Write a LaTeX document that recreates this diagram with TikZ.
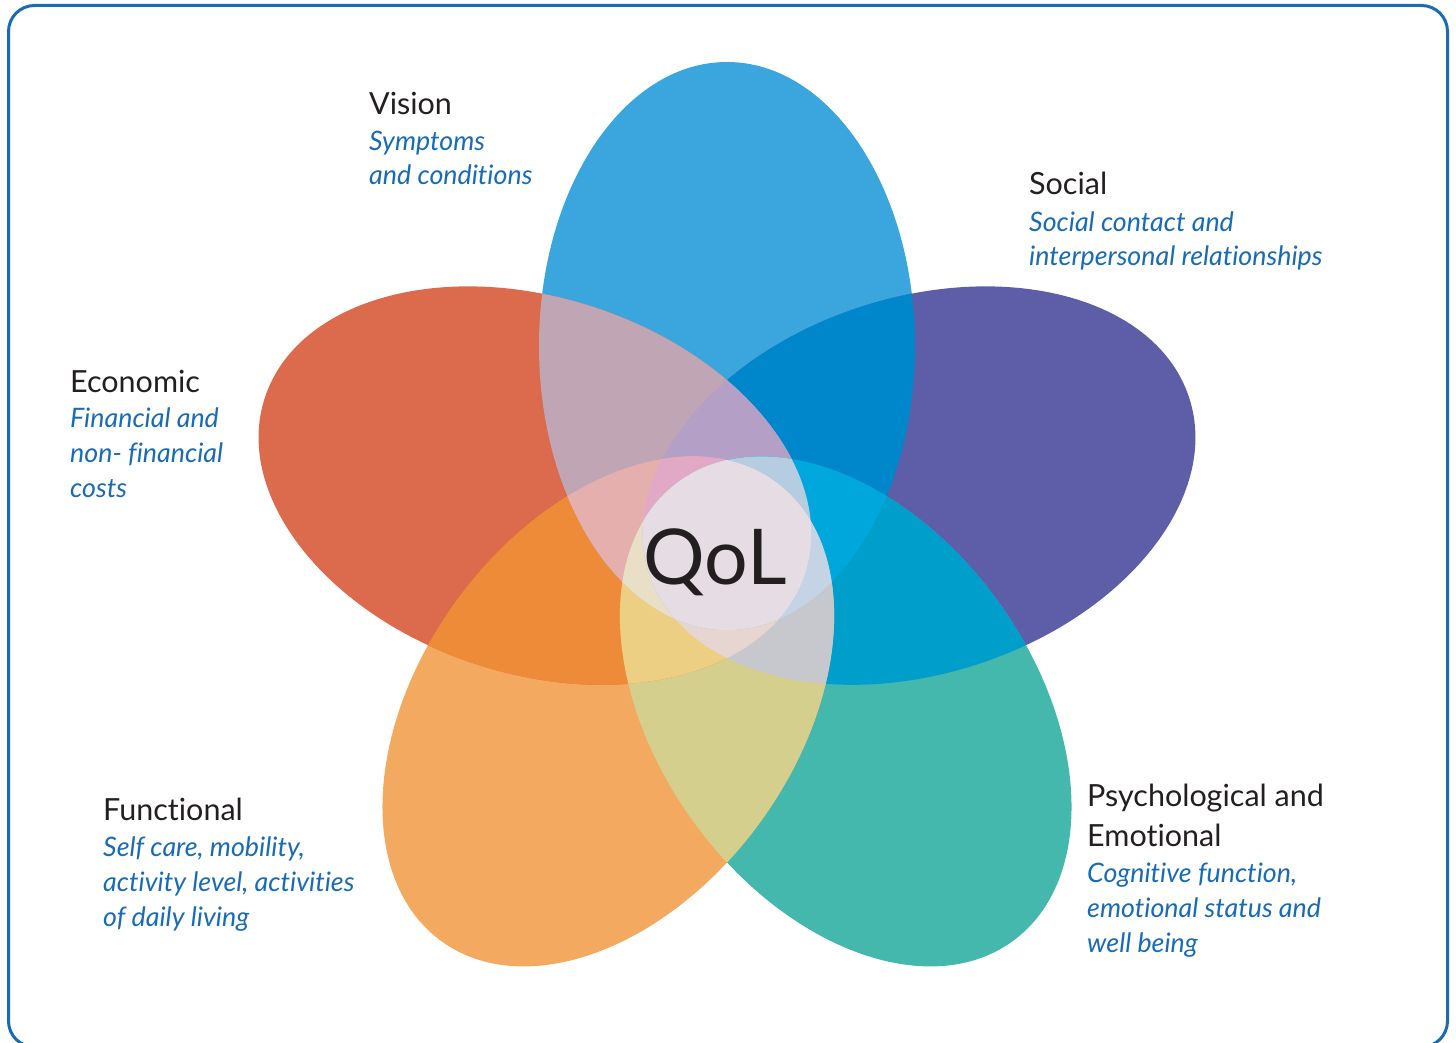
\documentclass[tikz,border=0pt]{standalone}
\usepackage{fontspec}
\setmainfont{Lato}[Ligatures={NoCommon}]
\definecolor{cV}{HTML}{3BA6DE}
\definecolor{cS}{HTML}{5E5DA8}
\definecolor{cP}{HTML}{45B8AE}
\definecolor{cF}{HTML}{F3A95F}
\definecolor{cE}{HTML}{DC6A4C}
\definecolor{cVS}{HTML}{0087CB}
\definecolor{cSP}{HTML}{009ECB}
\definecolor{cPF}{HTML}{D5CF8D}
\definecolor{cFE}{HTML}{EE8B38}
\definecolor{cEV}{HTML}{C0A6B4}
\definecolor{tV}{HTML}{B49FC6}
\definecolor{tS}{HTML}{00A7DC}
\definecolor{tP}{HTML}{C6C8CE}
\definecolor{tF}{HTML}{ECCF83}
\definecolor{tE}{HTML}{E5AFAE}
\definecolor{qV}{HTML}{E6D5D1}
\definecolor{qS}{HTML}{E9DFC7}
\definecolor{qP}{HTML}{E2A9C7}
\definecolor{qF}{HTML}{B5CCE1}
\definecolor{qE}{HTML}{C4D4E4}
\definecolor{five}{HTML}{E6DDE4}
\definecolor{framec}{HTML}{1A6BB5}
\definecolor{titlec}{HTML}{231F20}
\definecolor{descc}{HTML}{1A6BB5}
\def\eV{(727,346) circle[x radius=188pt,y radius=284pt]}
\def\eS{(919.1,485.6) circle[x radius=188pt,y radius=284pt,rotate=-72]}
\def\eP{(845.7,711.4) circle[x radius=188pt,y radius=284pt,rotate=36]}
\def\eF{(608.3,711.4) circle[x radius=188pt,y radius=284pt,rotate=-36]}
\def\eE{(534.9,485.6) circle[x radius=188pt,y radius=284pt,rotate=72]}
\tikzset{
  ttl/.style={anchor=base west, inner sep=0pt, text=titlec, font=\fontsize{30.5}{35}\selectfont},
  dsc/.style={anchor=base west, inner sep=0pt, text=descc, font=\fontsize{26.8}{35}\selectfont\itshape},
}
\begin{document}
\begin{tikzpicture}[x=1pt,y=-1pt]
\useasboundingbox (0,0) rectangle (1456,1043);
\fill[white] (0,0) rectangle (1456,1043);
\begin{scope}
\clip (0,0) rectangle (1456,1043);
\draw[framec, line width=3pt, rounded corners=26pt] (8.5,5.5) rectangle (1447.5,1047);
\end{scope}
% singles
\fill[cV] \eV;
\fill[cS] \eS;
\fill[cP] \eP;
\fill[cF] \eF;
\fill[cE] \eE;
% non-adjacent pairs (covered later almost entirely)
\begin{scope}\clip \eV; \fill[qS] \eP; \end{scope}
\begin{scope}\clip \eS; \fill[qP] \eF; \end{scope}
\begin{scope}\clip \eP; \fill[qF] \eE; \end{scope}
\begin{scope}\clip \eF; \fill[qE] \eV; \end{scope}
\begin{scope}\clip \eE; \fill[qV] \eS; \end{scope}
% adjacent pairs
\begin{scope}\clip \eV; \fill[cVS] \eS; \end{scope}
\begin{scope}\clip \eS; \fill[cSP] \eP; \end{scope}
\begin{scope}\clip \eP; \fill[cPF] \eF; \end{scope}
\begin{scope}\clip \eF; \fill[cFE] \eE; \end{scope}
\begin{scope}\clip \eE; \fill[cEV] \eV; \end{scope}
% triples
\begin{scope}\clip \eE; \clip \eV; \fill[tV] \eS; \end{scope}
\begin{scope}\clip \eV; \clip \eS; \fill[tS] \eP; \end{scope}
\begin{scope}\clip \eS; \clip \eP; \fill[tP] \eF; \end{scope}
\begin{scope}\clip \eP; \clip \eF; \fill[tF] \eE; \end{scope}
\begin{scope}\clip \eF; \clip \eE; \fill[tE] \eV; \end{scope}
% four-way
\begin{scope}\clip \eS; \clip \eP; \clip \eF; \fill[qV] \eE; \end{scope}
\begin{scope}\clip \eP; \clip \eF; \clip \eE; \fill[qS] \eV; \end{scope}
\begin{scope}\clip \eF; \clip \eE; \clip \eV; \fill[qP] \eS; \end{scope}
\begin{scope}\clip \eE; \clip \eV; \clip \eS; \fill[qF] \eP; \end{scope}
\begin{scope}\clip \eV; \clip \eS; \clip \eP; \fill[qE] \eF; \end{scope}
% five-way
\begin{scope}\clip \eV; \clip \eS; \clip \eP; \clip \eF; \fill[five] \eE; \end{scope}
% centre label
\node[anchor=base, inner sep=0pt, text=titlec, font=\fontsize{77}{80}\selectfont] (qol) at (715,584) {QoL};
% Vision
\node[ttl] (visT) at (369,115) {Vision};
\node[dsc] (visD1) at (369,151) {Symptoms};
\node[dsc] (visD2) at (369,185) {and conditions};
% Social
\node[ttl] (socT) at (1029,195) {Social};
\node[dsc] (socD1) at (1029,231) {Social contact and};
\node[dsc] (socD2) at (1029,265) {interpersonal relationships};
% Economic
\node[ttl] (ecoT) at (70,392) {Economic};
\node[dsc] (ecoD1) at (70,427) {Financial and};
\node[dsc] (ecoD2) at (70,462) {non- financial};
\node[dsc] (ecoD3) at (70,497) {costs};
% Functional
\node[ttl] (funT) at (103,820) {Functional};
\node[dsc] (funD1) at (103,856) {Self care, mobility,};
\node[dsc] (funD2) at (103,891) {activity level, activities};
\node[dsc] (funD3) at (103,926) {of daily living};
% Psychological
\node[ttl] (psyT1) at (1087,806) {Psychological and};
\node[ttl] (psyT2) at (1087,846) {Emotional};
\node[dsc] (psyD1) at (1087,882) {Cognitive function,};
\node[dsc] (psyD2) at (1087,917) {emotional status and};
\node[dsc] (psyD3) at (1087,952) {well being};
\end{tikzpicture}
\end{document}
